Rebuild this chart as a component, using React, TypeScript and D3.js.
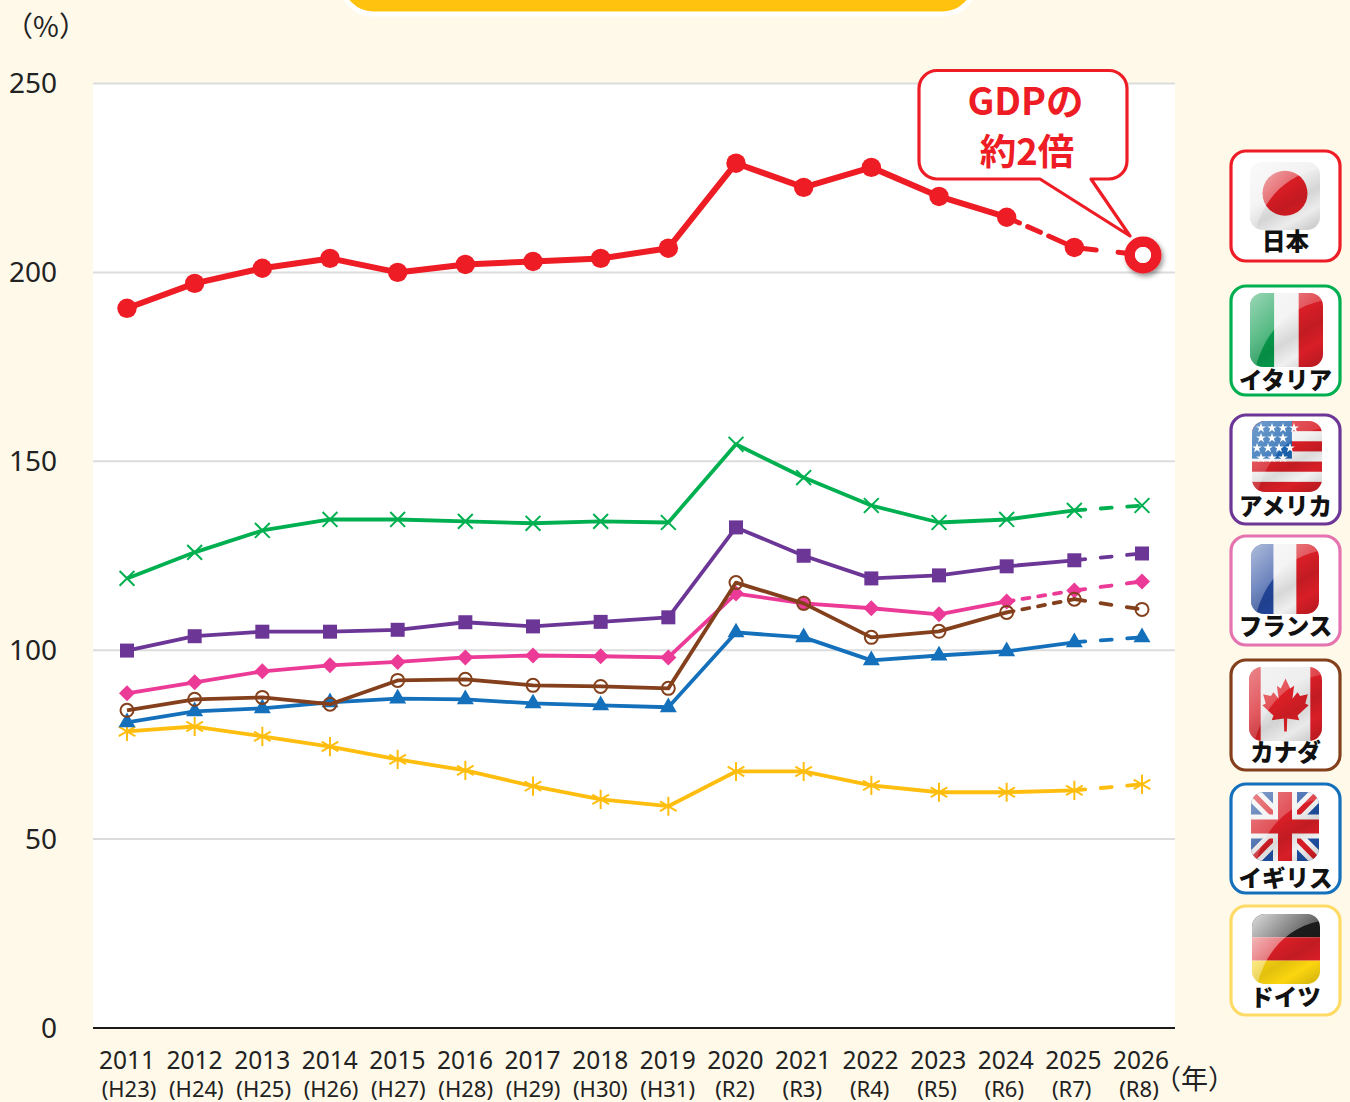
import React from "react";
import * as d3 from "d3";

const years = [2011,2012,2013,2014,2015,2016,2017,2018,2019,2020,2021,2022,2023,2024,2025,2026];
const eras = ["H23","H24","H25","H26","H27","H28","H29","H30","H31","R2","R3","R4","R5","R6","R7","R8"];
const yTicks = [0,50,100,150,200,250];

const japan = [190.5,197.1,201.1,203.7,200,202.1,202.9,203.7,206.4,228.9,222.5,227.8,220.1,214.6,206.6,204.6];
const italy = [119,125.9,131.7,134.6,134.6,134.1,133.6,134.1,133.8,154.5,145.7,138.3,133.8,134.6,137,138.3];
const usa = [99.9,103.7,104.9,104.9,105.4,107.4,106.3,107.5,108.7,132.5,125,119,119.8,122.2,123.8,125.6];
const france = [88.6,91.5,94.4,96,96.9,98.1,98.6,98.4,98.1,115,112.4,111.1,109.5,112.9,115.8,118.2];
const canada = [84.1,87,87.5,85.7,92,92.3,90.7,90.4,89.9,117.9,112.4,103.4,105,110,113.5,110.8];
const uk = [80.9,83.8,84.6,86.2,87.2,87,85.9,85.4,84.9,104.7,103.4,97.3,98.6,99.7,102.1,103.4];
const germany = [78.5,79.8,77.2,74.5,71.1,68.2,64,60.5,58.7,67.9,67.9,64.2,62.4,62.4,62.9,64.5];

const RED = "#EE1C25", GREEN = "#00B050", PURPLE = "#6C3696", PINK = "#EC3A97", BROWN = "#84401C", BLUE = "#1470BB", YELLOW = "#FFBE0F";
const FONT = "'Noto Sans', sans-serif";
const JP = "'Noto Sans CJK JP', sans-serif";

const x = d3.scaleLinear().domain([2011, 2026]).range([127, 1142]);
const eraX = d3.scaleLinear().domain([2011, 2026]).range([129, 1139]);
const yearX = d3.scaleLinear().domain([2011, 2026]).range([127, 1141]);
const y = d3.scaleLinear().domain([0, 250]).range([1028, 83.5]);
const line = d3.line<[number, number]>().x(d => x(d[0])).y(d => y(d[1]));
const sym = (t: any, s: number) => d3.symbol().type(t).size(s)() as string;
const LW = 3.8;

function Series({ values, color, marker, dashFrom = 14 }: { values: number[]; color: string; marker: (i: number) => React.ReactNode; dashFrom?: number }) {
  const pts = years.map((yr, i) => [yr, values[i]] as [number, number]);
  return (
    <g>
      <path d={line(pts.slice(0, dashFrom + 1)) as string} fill="none" stroke={color} strokeWidth={LW} strokeLinejoin="round" />
      {dashFrom === 13 && (
        <path d={line(pts.slice(13, 15)) as string} fill="none" stroke={color} strokeWidth={LW} strokeLinecap="round" strokeDasharray="7 9" />
      )}
      <path d={line(pts.slice(14, 16)) as string} fill="none" stroke={color} strokeWidth={LW} strokeLinecap="round" strokeDasharray="11 15.5" />
      {pts.map((p, i) => (
        <g key={i} transform={`translate(${x(p[0])},${y(p[1])})`}>{marker(i)}</g>
      ))}
    </g>
  );
}

const times = (c: string) => () => <path d={sym(d3.symbolTimes, 145)} fill="none" stroke={c} strokeWidth={2} />;
const star = (c: string) => () => <path d={sym(d3.symbolAsterisk, 260)} fill="none" stroke={c} strokeWidth={2} />;
const square = (c: string) => () => <path d={sym(d3.symbolSquare, 196)} fill={c} />;
const diamond = (c: string) => () => <path d={sym(d3.symbolSquare, 128)} transform="rotate(45)" fill={c} />;
const tri = (c: string) => () => <path d={sym(d3.symbolTriangle, 125)} fill={c} />;
const ring = (c: string) => () => <circle r={6.5} fill="none" stroke={c} strokeWidth={2} />;

function Japan() {
  const pts = years.map((yr, i) => [yr, japan[i]] as [number, number]);
  return (
    <g>
      <path d={line(pts.slice(0, 14)) as string} fill="none" stroke={RED} strokeWidth={6} strokeLinejoin="round" />
      <path d={line(pts.slice(13, 15)) as string} fill="none" stroke={RED} strokeWidth={5} strokeLinecap="round" strokeDasharray="14 9 14 9 70" />
      <path d={line(pts.slice(14, 16)) as string} fill="none" stroke={RED} strokeWidth={5} strokeLinecap="round" strokeDasharray="22 22 40" />
      {pts.slice(0, 15).map((p, i) => <circle key={i} cx={x(p[0])} cy={y(p[1])} r={9.7} fill={RED} />)}
      <circle cx={x(2026) + 1} cy={y(japan[15])} r={13.25} fill="#fff" stroke={RED} strokeWidth={10.5} filter="url(#shadow)" />
      <circle cx={x(2026) + 1} cy={y(japan[15])} r={8} fill="#fff" />
    </g>
  );
}

type FlagBox = { x: number; y: number; w: number; h: number };

const leafPath = "M0,-27 L5.5,-16 L10,-19 L8,-5 L14,-12 L17,-8 L26,-10 L23,0 L27,2 L14,13 L16,18 L2,16 L1.5,30 L-1.5,30 L-2,16 L-16,18 L-14,13 L-27,2 L-23,0 L-26,-10 L-17,-8 L-14,-12 L-8,-5 L-10,-19 L-5.5,-16 Z";

function FlagArt({ id, b }: { id: string; b: FlagBox }) {
  const { x: fx, y: fy, w, h } = b;
  if (id === "jp") return (
    <g>
      <rect x={fx} y={fy} width={w} height={h} fill="#ECECEC" />
      <circle cx={fx + w / 2} cy={fy + h * 0.46} r={22.5} fill="#D81C24" />
    </g>
  );
  if (id === "it") return (
    <g>
      <rect x={fx} y={fy} width={w / 3} height={h} fill="#079A4B" />
      <rect x={fx + w / 3} y={fy} width={w / 3} height={h} fill="#EFEFEF" />
      <rect x={fx + 2 * w / 3} y={fy} width={w / 3} height={h} fill="#D81E26" />
    </g>
  );
  if (id === "us") {
    const stripe = h / 7;
    return (
      <g>
        <rect x={fx} y={fy} width={w} height={h} fill="#F2F2F2" />
        {[0, 2, 4, 6].map(i => <rect key={i} x={fx} y={fy + i * stripe} width={w} height={stripe} fill="#D81E26" />)}
        <rect x={fx} y={fy} width={w * 0.57} height={h * 0.53} fill="#1B62AE" />
        {[0, 1, 2, 3].map(r => [0, 1, 2, 3].map(c => (
          (r % 2 === 1 && c === 3) ? null :
          <path key={`${r}-${c}`} d={sym(d3.symbolStar, 30)} fill="#fff"
            transform={`translate(${fx + 5 + (r % 2 ? 4 : 0) + (r === 0 ? 4 : 0) + c * 11},${fy + 7 + r * 10})`} />
        )))}
      </g>
    );
  }
  if (id === "fr") return (
    <g>
      <rect x={fx} y={fy} width={w / 3} height={h} fill="#23479D" />
      <rect x={fx + w / 3} y={fy} width={w / 3} height={h} fill="#EFEFEF" />
      <rect x={fx + 2 * w / 3} y={fy} width={w / 3} height={h} fill="#D81E26" />
    </g>
  );
  if (id === "ca") return (
    <g>
      <rect x={fx} y={fy} width={w} height={h} fill="#EAEAEA" />
      <rect x={fx} y={fy} width={w * 0.16} height={h} fill="#D81E26" />
      <rect x={fx + w * 0.84} y={fy} width={w * 0.16} height={h} fill="#D81E26" />
      <path d={leafPath} fill="#DC1F26" transform={`translate(${fx + w / 2},${fy + h / 2 - 0.5}) scale(0.86 0.93)`} />
    </g>
  );
  if (id === "uk") {
    const cx = fx + w / 2, cy = fy + h / 2;
    const diag = `M${fx},${fy} L${fx + w},${fy + h} M${fx + w},${fy} L${fx},${fy + h}`;
    const cross = `M${cx},${fy} V${fy + h} M${fx},${cy} H${fx + w}`;
    return (
      <g>
        <rect x={fx} y={fy} width={w} height={h} fill="#1F4E9F" />
        <path d={diag} stroke="#F1F1F1" strokeWidth={15} />
        <path d={diag} stroke="#D81E26" strokeWidth={5.5} />
        <path d={cross} stroke="#F1F1F1" strokeWidth={24} />
        <path d={cross} stroke="#D81E26" strokeWidth={14} />
      </g>
    );
  }
  return (
    <g>
      <rect x={fx} y={fy} width={w} height={h / 3} fill="#1c1c1c" />
      <rect x={fx} y={fy + h / 3} width={w} height={h / 3} fill="#D81E26" />
      <rect x={fx} y={fy + 2 * h / 3} width={w} height={h / 3} fill="#FBD50F" />
    </g>
  );
}

const legendNames = ["日本","イタリア","アメリカ","フランス","カナダ","イギリス","ドイツ"];
const legendIds = ["jp","it","us","fr","ca","uk","de"];
const legendColors = [RED, GREEN, PURPLE, "#E573AF", BROWN, BLUE, "#FFDB66"];
const boxTops = [151,286,415,536,660,784,906];
const boxBottoms = [261,395,524,645,770,893,1015];
const flagBoxes: FlagBox[] = [
  { x: 1250, y: 162, w: 70, h: 68 },
  { x: 1250, y: 293, w: 73, h: 74 },
  { x: 1252, y: 421, w: 70, h: 71 },
  { x: 1251, y: 544, w: 68, h: 70 },
  { x: 1249, y: 667, w: 73, h: 74 },
  { x: 1251, y: 792, w: 68, h: 69 },
  { x: 1252, y: 914, w: 68, h: 70 },
];
const glossStrength = [0.9, 0.7, 0.45, 0.75, 0.55, 0.55, 1];
const labelYs = [242,381,507,627,753,879,998];

function Legend() {
  return (
    <g>
      {legendNames.map((n, i) => {
        const b = flagBoxes[i];
        return (
          <g key={n}>
            <rect x={1231} y={boxTops[i]} width={109} height={boxBottoms[i] - boxTops[i]} rx={15} fill="#fff" stroke={legendColors[i]} strokeWidth={3.2} />
            <clipPath id={`clip-${legendIds[i]}`}><rect x={b.x} y={b.y} width={b.w} height={b.h} rx={13} /></clipPath>
            <g clipPath={`url(#clip-${legendIds[i]})`}>
              <FlagArt id={legendIds[i]} b={b} />
              <rect x={b.x} y={b.y} width={b.w} height={b.h} fill="url(#shade)" />
              <path d={`M${b.x},${b.y} H${b.x + b.w} V${b.y + b.h * 0.1} C${b.x + b.w * 0.5},${b.y + b.h * 0.2} ${b.x + b.w * 0.2},${b.y + b.h * 0.55} ${b.x + b.w * 0.08},${b.y + b.h} H${b.x} Z`} fill="url(#gloss)" opacity={glossStrength[i]} />
            </g>
            <text x={1285.5} y={labelYs[i]} dy="0.36em" textAnchor="middle" fontFamily={JP} fontWeight={900} fontSize={23.5} fill="#111">{n}</text>
          </g>
        );
      })}
    </g>
  );
}

export default function App() {
  return (
    <svg width={1350} height={1102} style={{ position: "absolute", left: 0, top: 0, display: "block" }}>
      <defs>
        <linearGradient id="gloss" x1="0" y1="0" x2="0.75" y2="0.75">
          <stop offset="0" stopColor="#fff" stopOpacity={0.85} />
          <stop offset="1" stopColor="#fff" stopOpacity={0.08} />
        </linearGradient>
        <linearGradient id="shade" x1="0.2" y1="0" x2="0.8" y2="1">
          <stop offset="0.4" stopColor="#000" stopOpacity={0} />
          <stop offset="0.62" stopColor="#000" stopOpacity={0.1} />
          <stop offset="0.82" stopColor="#000" stopOpacity={0} />
          <stop offset="1" stopColor="#000" stopOpacity={0.12} />
        </linearGradient>
        <filter id="shadow" x="-50%" y="-50%" width="200%" height="200%">
          <feDropShadow dx="2" dy="3" stdDeviation="2.5" floodColor="#000" floodOpacity={0.4} />
        </filter>
      </defs>
      <rect width={1350} height={1102} fill="#FFF9E9" />
      <rect x={341} y={-50} width={634} height={64} rx={32} fill="#FFC20E" stroke="#fff" strokeWidth={5} />
      <rect x={93} y={83.5} width={1082} height={944.5} fill="#fff" />
      {yTicks.filter(t => t > 0).map(t => (
        <line key={t} x1={93} x2={1175} y1={y(t)} y2={y(t)} stroke="#DCDCDC" strokeWidth={2} />
      ))}
      <line x1={93} x2={1175} y1={y(0)} y2={y(0)} stroke="#1a1a1a" strokeWidth={2} />
      {yTicks.map(t => (
        <text key={t} x={57} y={y(t)} dy="0.35em" textAnchor="end" fontFamily={FONT} fontSize={28} fill="#222">{t}</text>
      ))}
      <text x={46} y={27} dy="0.36em" textAnchor="middle" fontFamily={JP} fontSize={28} fill="#222">（%）</text>
      {years.map((yr, i) => (
        <g key={yr}>
          <text x={yearX(yr)} y={1069} textAnchor="middle" fontFamily={FONT} fontSize={24.5} fill="#222">{yr}</text>
          <text x={eraX(yr)} y={1097} textAnchor="middle" fontFamily={FONT} fontSize={22} fill="#222">({eras[i]})</text>
        </g>
      ))}
      <text x={1194.5} y={1079} dy="0.36em" textAnchor="middle" fontFamily={JP} fontSize={27} fill="#222">（年）</text>

      <Series values={italy} color={GREEN} marker={times(GREEN)} />
      <Series values={usa} color={PURPLE} marker={square(PURPLE)} />
      <Series values={germany} color={YELLOW} marker={star(YELLOW)} />
      <Series values={uk} color={BLUE} marker={tri(BLUE)} />
      <Series values={france} color={PINK} marker={diamond(PINK)} dashFrom={13} />
      <Series values={canada} color={BROWN} marker={ring(BROWN)} dashFrom={13} />
      <Japan />

      <path d="M937,70.5 H1109 A18,18 0 0 1 1127,88.5 V161 A18,18 0 0 1 1109,179 H1091 L1130,236 L1040,179 H937 A18,18 0 0 1 919,161 V88.5 A18,18 0 0 1 937,70.5 Z" fill="#fff" stroke={RED} strokeWidth={3.2} strokeLinejoin="round" />
      <text x={1025.5} y={101} dy="0.36em" textAnchor="middle" fontFamily={JP} fontWeight={700} fontSize={37.5} fill={RED}>GDPの</text>
      <text x={1027} y={152} dy="0.36em" textAnchor="middle" fontFamily={JP} fontWeight={700} fontSize={36.5} fill={RED}>約2倍</text>
      <Legend />
    </svg>
  );
}
